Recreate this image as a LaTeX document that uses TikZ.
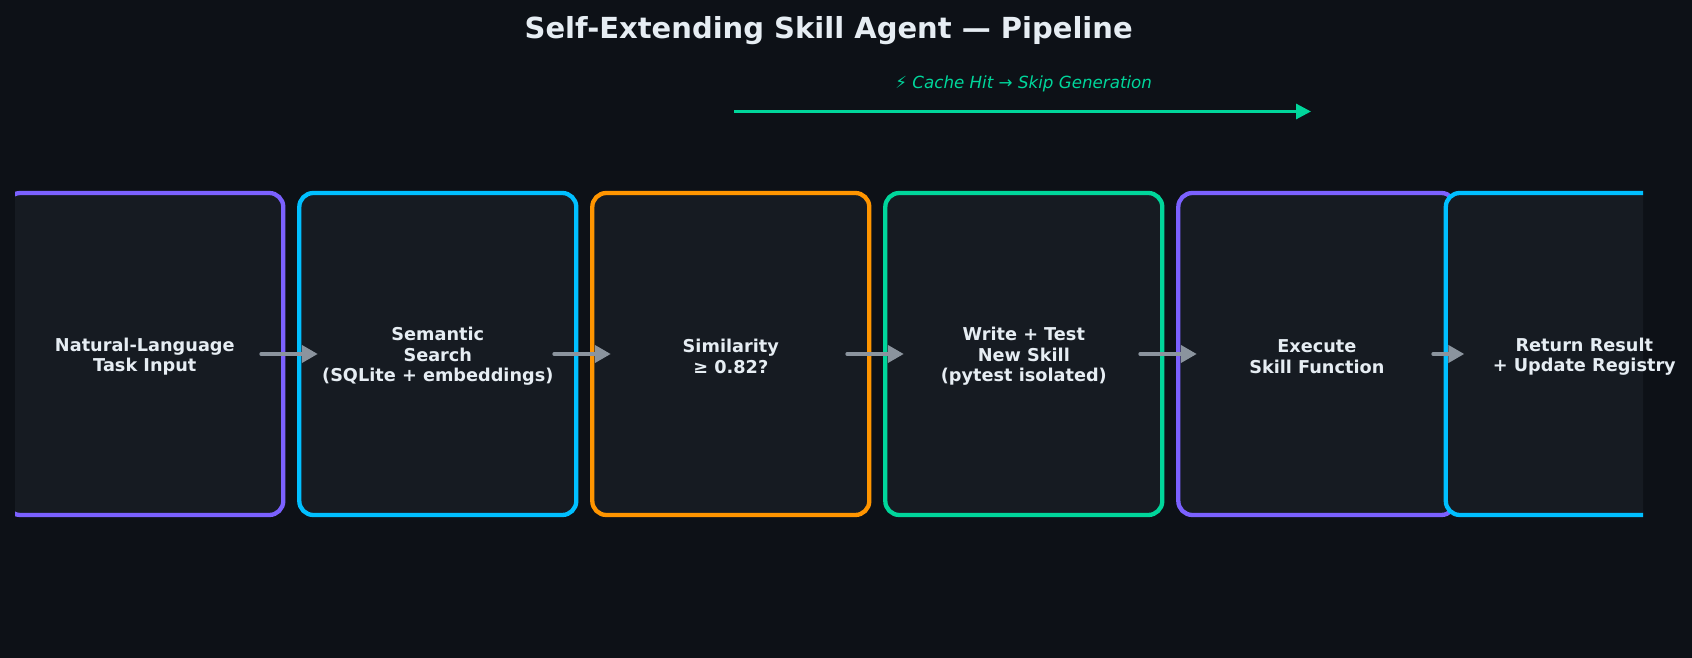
\documentclass[tikz,border=0pt]{standalone}
\usepackage{fontspec}
\setmainfont{DejaVu Sans}
\usepackage{xcolor}
\usepackage{tikz}
\usetikzlibrary{arrows.meta,positioning}

\definecolor{bgdark}{HTML}{0D1117}
\definecolor{boxfill}{HTML}{161B22}
\definecolor{txtlight}{HTML}{E6EDF3}
\definecolor{cpurple}{HTML}{7B61FF}
\definecolor{ccyan}{HTML}{00BFFF}
\definecolor{corange}{HTML}{FF9500}
\definecolor{cgreen}{HTML}{00D69B}
\definecolor{flowgray}{HTML}{8B949E}

\begin{document}
\begin{tikzpicture}[
    x=1pt, y=1pt,
    stage/.style={rectangle, rounded corners=14pt, fill=boxfill, line width=4.3pt,
        minimum width=277pt, minimum height=322pt, inner sep=0pt, outer sep=0pt},
    stagetxt/.style={text=txtlight, align=center, inner sep=0pt,
        font=\fontsize{17.7}{20.5}\selectfont\bfseries},
    flow/.style={-{Triangle[length=16pt, width=17pt]}, line width=4pt, line cap=round, flowgray},
    skip/.style={-{Triangle[length=15pt, width=15pt]}, line width=3pt, cgreen},
]
    \fill[bgdark] (0,0) rectangle (1692,658);
    \useasboundingbox (0,0) rectangle (1692,658);

    \node[text=txtlight, font=\fontsize{29}{34}\selectfont\bfseries] (title) at (828.7,627)
        {Self-Extending Skill Agent — Pipeline};

    \begin{scope}
        \clip (15,0) rectangle (1643,658);
        \node[stage, draw=cpurple] (input) at (144.8,304) {};
        \node[stage, draw=ccyan, right=16pt of input] (search) {};
        \node[stage, draw=corange, right=16pt of search] (simcheck) {};
        \node[stage, draw=cgreen, right=16pt of simcheck] (gen) {};
        \node[stage, draw=cpurple, right=16pt of gen] (exec) {};
        \node[stage, draw=ccyan, right=-9.5pt of exec] (result) {};
    \end{scope}

    \node[stagetxt] (inputtxt) at ([yshift=-2.5pt]input.center) {Natural-Language\\Task Input};
    \node[stagetxt] (searchtxt) at ([yshift=-2.5pt]search.center) {Semantic\\Search\\(SQLite + embeddings)};
    \node[stagetxt] (simchecktxt) at ([yshift=-2.5pt]simcheck.center) {Similarity\\≥ 0.82?};
    \node[stagetxt] (gentxt) at ([yshift=-2.5pt]gen.center) {Write + Test\\New Skill\\(pytest isolated)};
    \node[stagetxt] (exectxt) at ([yshift=-2.5pt]exec.center) {Execute\\Skill Function};
    \node[stagetxt] (resulttxt) at ([yshift=-2.5pt]result.center) {Return Result\\+ Update Registry};

    \foreach \a/\b in {input/search, search/simcheck, simcheck/gen, gen/exec, exec/result}
        \draw[flow] ([xshift=-22pt]\a.east) -- ([xshift=18.5pt]\b.west);

    \coordinate (hitstart) at (734,546.5);
    \coordinate (hitend) at (1311,546.5);
    \draw[skip] (hitstart) -- (hitend);
    \node[text=cgreen, font=\fontsize{16.7}{20}\selectfont\itshape] (hitnote) at (1023.7,574)
        {{\upshape ⚡} Cache Hit → Skip Generation};
\end{tikzpicture}
\end{document}
